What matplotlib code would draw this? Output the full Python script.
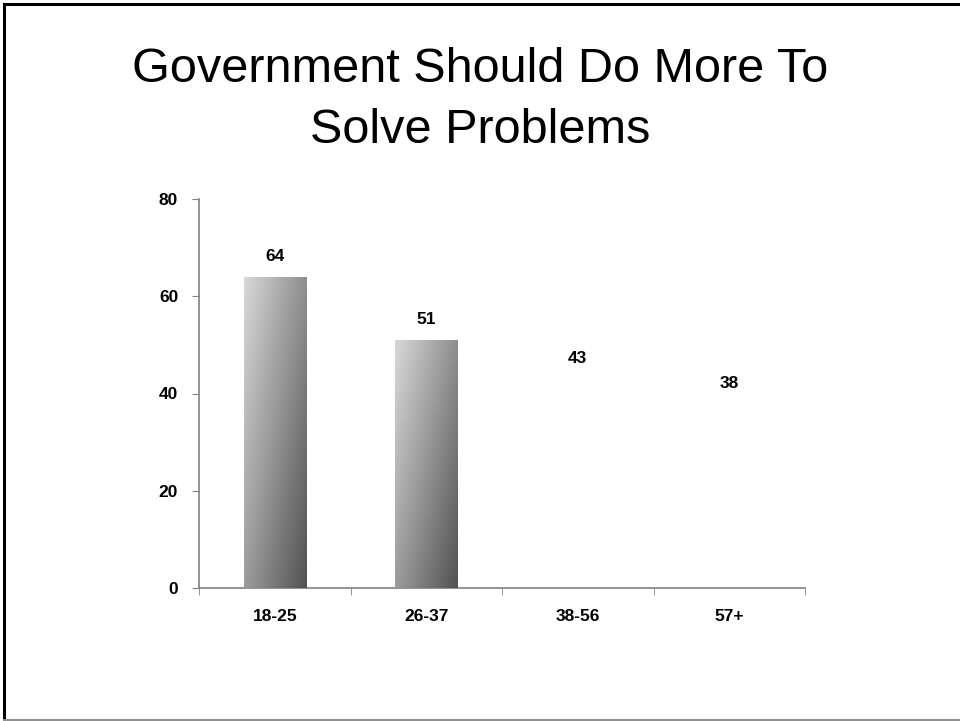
import numpy as np
from matplotlib import pyplot as plt
from matplotlib.lines import Line2D
from matplotlib.colors import LinearSegmentedColormap

plt.rcParams['font.family'] = ['Liberation Sans', 'DejaVu Sans']

# data
groups = ['18-25', '26-37', '38-56', '57+']
values = [64, 51, 43, 38]
shaded = [True, True, False, False]  # only the first two bars are visible

fig = plt.figure(figsize=(9.6, 7.21), dpi=100)
W, H = 960, 721
ax = fig.add_axes([199 / W, 1 - 588 / H, (805 - 199) / W, (588 - 199) / H])

x = np.arange(len(groups))
bars = ax.bar(x, values, width=0.41, color='white', edgecolor='none', zorder=2)

# diagonal grey gradient: light top-left, dark bottom-right
greys = LinearSegmentedColormap.from_list('bar_grey', ['#d8d8d8', '#525252'])
gx, gy = np.meshgrid(np.linspace(0, 1, 100), np.linspace(0, 1, 200))
grad = 0.55 * gx + 0.45 * gy
for bar, show in zip(bars, shaded):
    if not show:
        continue
    x0, y0 = bar.get_x(), bar.get_y()
    im = ax.imshow(grad, cmap=greys, vmin=0, vmax=1, aspect='auto',
                   extent=[x0, x0 + bar.get_width(), y0, y0 + bar.get_height()],
                   origin='upper', zorder=3)
    im.set_clip_path(bar)

for xi, v in zip(x, values):
    ax.text(xi, v + 2.6, str(v), ha='center', va='bottom',
            fontsize=12.5, fontweight='bold')

ax.set_xlim(-0.5, len(groups) - 0.5)
ax.set_ylim(0, 80)
ax.set_yticks([0, 20, 40, 60, 80])
ax.set_xticks(x)
ax.set_xticklabels(groups)
ax.set_xticks(np.arange(len(groups) + 1) - 0.5, minor=True)
ax.tick_params(axis='x', which='major', length=0, pad=15, labelsize=12.5)
ax.tick_params(axis='x', which='minor', length=5, color='#808080', direction='out')
ax.tick_params(axis='y', length=5, color='#808080', direction='out', pad=10, labelsize=12.5)
for lbl in ax.get_xticklabels() + ax.get_yticklabels():
    lbl.set_fontweight('bold')

for side in ['top', 'right']:
    ax.spines[side].set_visible(False)
for side in ['left', 'bottom']:
    ax.spines[side].set_color('#808080')
    ax.spines[side].set_linewidth(1.2)

fig.text(0.5, 1 - 143 / H, 'Government Should Do More To\nSolve Problems',
         ha='center', va='baseline', fontsize=35, linespacing=1.45)

# slide border
fig.add_artist(Line2D([4 / W, 4 / W], [0, 1 - 4 / H], color='black', lw=2.2, transform=fig.transFigure))
fig.add_artist(Line2D([4 / W, 1], [1 - 4 / H, 1 - 4 / H], color='black', lw=2.2, transform=fig.transFigure))
fig.add_artist(Line2D([4 / W, 1], [1 / H, 1 / H], color='#909090', lw=1.5, transform=fig.transFigure))

fig.savefig('out.png', dpi=100)
